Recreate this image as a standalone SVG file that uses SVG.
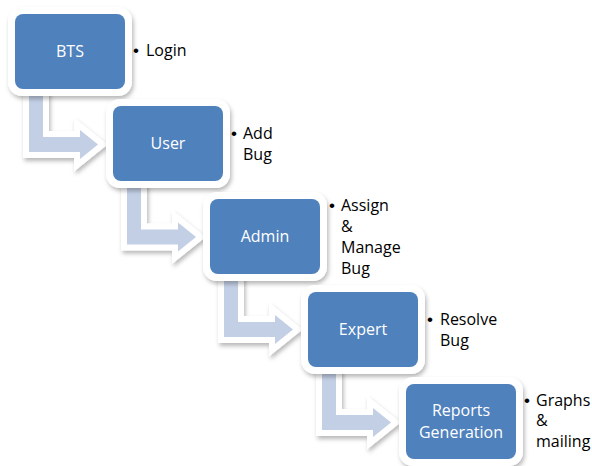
<svg xmlns="http://www.w3.org/2000/svg" width="592" height="466" viewBox="0 0 592 466">
<defs>
<filter id="sh" x="-20%" y="-20%" width="140%" height="150%">
<feDropShadow dx="1.5" dy="3" stdDeviation="2.2" flood-color="#000" flood-opacity="0.28"/>
</filter>
<path id="arr" d="M29,92 L43,92 L43,137 L80,137 L80,130 L98,144.5 L80,159 L80,152 L29,152 Z"/>
</defs>
<style>
.frame{fill:#fff;filter:url(#sh)}
.box{fill:#4f81bd}
.lbl{font-family:"Open Sans","Liberation Sans",sans-serif;font-size:16px;fill:#fff;text-anchor:middle}
.txt{font-family:"Open Sans","Liberation Sans",sans-serif;font-size:16px;fill:#000}
.bul{font-family:"Liberation Sans",sans-serif;font-size:17px;fill:#000}
.arrow{fill:#c3cfe5;stroke:#fff;stroke-width:12;stroke-linejoin:miter;stroke-miterlimit:4;paint-order:stroke;filter:url(#sh)}
</style>
<rect width="592" height="466" fill="#fff"/>
<g id="connectors">
<use href="#arr" class="arrow"/>
<use href="#arr" class="arrow" transform="translate(98,92.5)"/>
<use href="#arr" class="arrow" transform="translate(195,185)"/>
<use href="#arr" class="arrow" transform="translate(293,278)"/>
</g>
<g id="bts">
<rect class="frame" x="8" y="7" width="124" height="89" rx="14"/>
<rect class="box" x="15" y="14" width="110" height="75" rx="8"/>
<text class="lbl" x="70" y="57">BTS</text>
<text class="bul" x="133" y="56">•</text>
<text class="txt" x="146" y="56">Login</text>
</g>
<g id="user">
<rect class="frame" x="106" y="99" width="124" height="89" rx="14"/>
<rect class="box" x="113" y="106" width="110" height="75" rx="8"/>
<text class="lbl" x="168" y="149">User</text>
<text class="bul" x="231" y="139">•</text>
<text class="txt" x="243" y="139">Add</text>
<text class="txt" x="243" y="160">Bug</text>
</g>
<g id="admin">
<rect class="frame" x="203" y="192" width="124" height="89" rx="14"/>
<rect class="box" x="210" y="199" width="110" height="75" rx="8"/>
<text class="lbl" x="265" y="242">Admin</text>
<text class="bul" x="329" y="211">•</text>
<text class="txt" x="341" y="211">Assign</text>
<text class="txt" x="341" y="232">&amp;</text>
<text class="txt" x="341" y="253">Manage</text>
<text class="txt" x="341" y="274">Bug</text>
</g>
<g id="expert">
<rect class="frame" x="301" y="285" width="124" height="89" rx="14"/>
<rect class="box" x="308" y="292" width="110" height="75" rx="8"/>
<text class="lbl" x="363" y="335">Expert</text>
<text class="bul" x="427" y="325">•</text>
<text class="txt" x="440" y="325">Resolve</text>
<text class="txt" x="440" y="346">Bug</text>
</g>
<g id="reports">
<rect class="frame" x="399" y="377" width="124" height="89" rx="14"/>
<rect class="box" x="406" y="384" width="110" height="75" rx="8"/>
<text class="lbl" x="461" y="416">Reports</text>
<text class="lbl" x="461" y="438">Generation</text>
<text class="bul" x="524" y="406">•</text>
<text class="txt" x="536" y="406">Graphs</text>
<text class="txt" x="536" y="426">&amp;</text>
<text class="txt" x="536" y="447">mailing</text>
</g>
</svg>
